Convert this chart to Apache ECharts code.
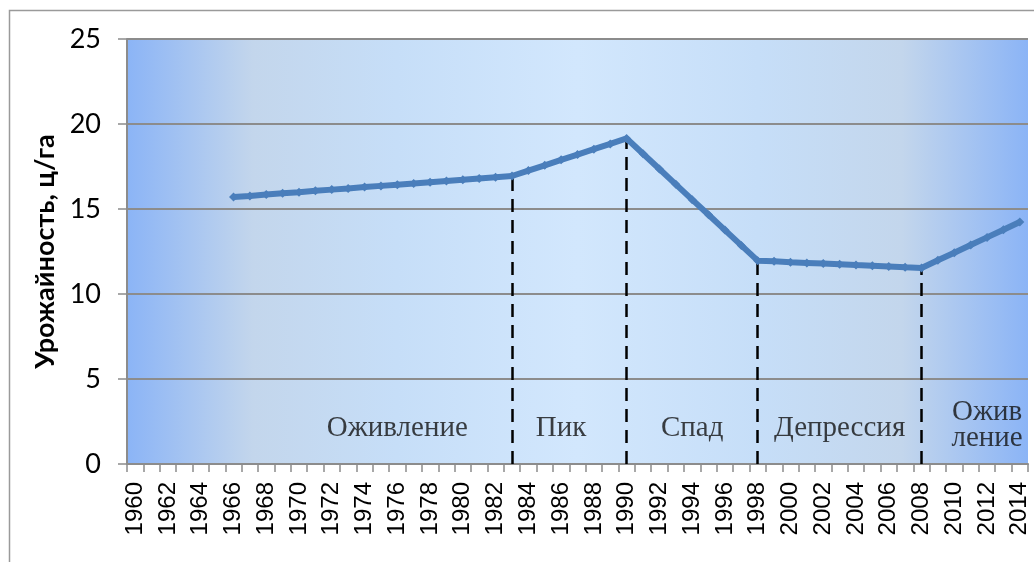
<!DOCTYPE html>
<html style="height: 100%">
   <head>
       <meta charset="utf-8">
   </head>
   <body style="height: 100%; margin: 0; background: #fff">
       <div id="container" style="height: 100%"></div>
       <script type="text/javascript" src="https://cdn.jsdelivr.net/npm/echarts@6/dist/echarts.min.js"></script>
       <script type="text/javascript">

// годы (категории оси X)
var years = ['1960','1961','1962','1963','1964','1965','1966','1967','1968','1969',
             '1970','1971','1972','1973','1974','1975','1976','1977','1978','1979',
             '1980','1981','1982','1983','1984','1985','1986','1987','1988','1989',
             '1990','1991','1992','1993','1994','1995','1996','1997','1998','1999',
             '2000','2001','2002','2003','2004','2005','2006','2007','2008','2009',
             '2010','2011','2012','2013','2014'];

// урожайность, ц/га
var yieldValues = [null, null, null, null, null, null,
    15.70, 15.77, 15.85, 15.92, 15.99, 16.07, 16.14, 16.21, 16.29, 16.36,
    16.43, 16.50, 16.58, 16.65, 16.72, 16.80, 16.87, 16.94,
    17.26, 17.57, 17.89, 18.20, 18.52, 18.83, 19.15,
    18.25, 17.35, 16.45, 15.55, 14.66, 13.76, 12.86, 11.96,
    11.92, 11.87, 11.83, 11.79, 11.75, 11.70, 11.66, 11.62, 11.57, 11.53,
    11.98, 12.43, 12.88, 13.33, 13.78, 14.23];

// границы фаз цикла
var phaseBreaks = ['1983', '1990', '1998', '2008'];

// подписи фаз
var phaseNames = ['Оживление', 'Пик', 'Спад', 'Депрессия', 'Ожив\nление'];
var phaseYears = ['1976', '1986', '1994', '2003', '2012'];
var phaseLevel = [2.1, 2.1, 2.1, 2.1, 2.3];

var yTicks = [0, 5, 10, 15, 20, 25];

var myChart = echarts.init(document.getElementById("container"));

var breakLines = phaseBreaks.map(function (y) {
    return [{ coord: [y, 0] }, { coord: [y, yieldValues[years.indexOf(y)]] }];
});

var phaseData = phaseYears.map(function (y, i) {
    return { value: [y, phaseLevel[i]], name: phaseNames[i] };
});

var option = {
    backgroundColor: '#fff',
    animation: false,
    graphic: [{
        type: 'rect',
        shape: { x: 9.5, y: 10.5, width: 1200, height: 1200 },
        style: { fill: 'none', stroke: '#9a9a9a', lineWidth: 1.5 },
        z: -1
    }],
    grid: {
        left: 127, right: 6, top: 39, bottom: 98,
        show: true,
        borderWidth: 0,
        backgroundColor: new echarts.graphic.LinearGradient(0, 0, 1, 0, [
            { offset: 0, color: '#8bb4f6' },
            { offset: 0.14, color: '#c3d6ec' },
            { offset: 0.3, color: '#c6def8' },
            { offset: 0.5, color: '#d2e7fd' },
            { offset: 0.7, color: '#c6def8' },
            { offset: 0.86, color: '#c3d6ec' },
            { offset: 1, color: '#8bb4f6' }
        ])
    },
    xAxis: {
        type: 'category',
        data: years,
        boundaryGap: true,
        axisLine: { lineStyle: { color: '#8c8c8c', width: 2 } },
        axisTick: { show: true, interval: 0, length: 8, lineStyle: { color: '#8c8c8c', width: 1.5 } },
        axisLabel: {
            interval: 1,
            rotate: 90,
            margin: 18,
            fontFamily: 'Liberation Sans',
            fontSize: 24,
            color: '#000'
        }
    },
    yAxis: {
        type: 'value',
        min: 0, max: 25, interval: 5,
        name: 'Урожайность, ц/га',
        nameLocation: 'middle',
        nameRotate: 90,
        nameGap: 68,
        nameTextStyle: { fontFamily: 'Lato', fontWeight: 'bold', fontSize: 27, color: '#000' },
        axisLine: { show: true, lineStyle: { color: '#8c8c8c', width: 2 } },
        axisTick: { show: true, length: 9, lineStyle: { color: '#8c8c8c', width: 1.5 } },
        axisLabel: {
            margin: 26,
            fontFamily: 'Lato',
            fontSize: 27,
            color: '#000',
            formatter: function (v) { return yTicks.indexOf(v) >= 0 ? String(v) : ''; }
        },
        splitLine: { lineStyle: { color: '#8c8c8c', width: 2 } }
    },
    series: [{
        type: 'line',
        data: yieldValues,
        connectNulls: false,
        symbol: 'diamond',
        symbolSize: 9,
        showSymbol: true,
        lineStyle: { color: '#4a7ebb', width: 6 },
        itemStyle: { color: '#4a7ebb' },
        z: 3,
        markLine: {
            silent: true,
            symbol: 'none',
            label: { show: false },
            lineStyle: { color: '#000', width: 2.5, type: [13, 8] },
            data: breakLines,
            z: 2
        }
    }, {
        type: 'scatter',
        data: phaseData,
        symbolSize: 0,
        silent: true,
        label: {
            show: true,
            position: 'inside',
            formatter: '{b}',
            fontFamily: 'Liberation Serif',
            fontSize: 29,
            lineHeight: 26,
            color: '#111'
        }
    }]
};

if (option && typeof option === "object") {
    myChart.setOption(option, true);
}

       </script>
   </body>
</html>
